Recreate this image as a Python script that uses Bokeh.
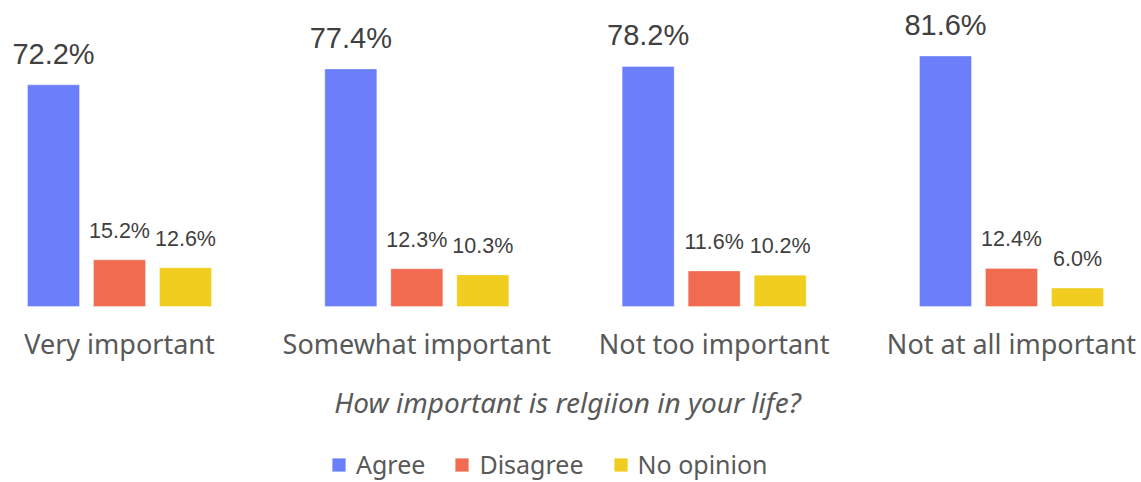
from bokeh.plotting import figure
from bokeh.models import Range1d, ColumnDataSource, Legend, LegendItem, Label
from bokeh.core.properties import value
from bokeh.embed import file_html
from bokeh.resources import INLINE

# ---- data ----
categories = ["Very important", "Somewhat important", "Not too important", "Not at all important"]
series = ["Agree", "Disagree", "No opinion"]
agree = [72.2, 77.4, 78.2, 81.6]
disagree = [15.2, 12.3, 11.6, 12.4]
no_opinion = [12.6, 10.3, 10.2, 6.0]
axis_title = "How important is relgiion in your life?"

colors = ["#6B7FFA", "#F06B50", "#F0CD1E"]

W, H = 1141, 482
group_px = 297.33
first_center_px = 119.0
scale = 3.07  # px per percent
baseline_px = 306.0  # from top of figure

x0 = -first_center_px / group_px
x1 = (W - first_center_px) / group_px
y0 = -(H - baseline_px) / scale
y1 = baseline_px / scale

p = figure(width=W, height=H, x_range=Range1d(x0, x1), y_range=Range1d(y0, y1),
           output_backend="svg", toolbar_location=None, min_border=0,
           x_axis_location=None, y_axis_location=None)
p.grid.visible = False
p.outline_line_color = None
p.background_fill_color = "white"
p.border_fill_color = "white"

idx = list(range(len(categories)))
offsets = [-66 / group_px, 0.0, 66 / group_px]
bar_w = 52 / group_px

renderers = []
for k, (name, vals) in enumerate(zip(series, [agree, disagree, no_opinion])):
    src = ColumnDataSource(dict(
        x=[i + offsets[k] for i in idx],
        top=vals,
        lab=[f"{v:.1f}%" for v in vals],
    ))
    r = p.vbar(x="x", top="top", bottom=0, width=bar_w, source=src,
               fill_color=colors[k], line_color="white", line_alpha=0.35, line_width=1)
    renderers.append(r)
    if k == 0:
        p.text(x="x", y="top", text="lab", source=src, text_align="center",
               text_baseline="alphabetic", y_offset=-31,
               text_font=value("Liberation Sans"), text_font_size="29px",
               text_color="#404040")
    else:
        p.text(x="x", y="top", text="lab", source=src, text_align="center",
               text_baseline="alphabetic", y_offset=-29,
               text_font=value("Liberation Sans"), text_font_size="21.5px",
               text_color="#404040")

cat_src = ColumnDataSource(dict(x=idx, y=[0] * len(idx), t=categories))
p.text(x="x", y="y", text="t", source=cat_src, text_align="center",
       text_baseline="alphabetic", y_offset=37,
       text_font=value("Noto Sans"), text_font_size="27px", text_color="#595959")

title = Label(x=567, y=H - 401, x_units="screen", y_units="screen", text=axis_title,
              text_align="center", text_baseline="alphabetic",
              text_font="Noto Sans", text_font_style="italic", text_font_size="28px",
              text_color="#595959")
p.add_layout(title)

legend = Legend(items=[LegendItem(label=s, renderers=[r]) for s, r in zip(series, renderers)],
                orientation="horizontal", location=(330, 1),
                glyph_width=17, glyph_height=17, label_height=17,
                label_standoff=9, spacing=28, padding=0, margin=0,
                border_line_alpha=0, background_fill_alpha=0,
                label_text_font="Noto Sans", label_text_font_size="25px",
                label_text_color="#595959")
p.add_layout(legend)

open("out.html", "w").write(file_html(p, INLINE))
